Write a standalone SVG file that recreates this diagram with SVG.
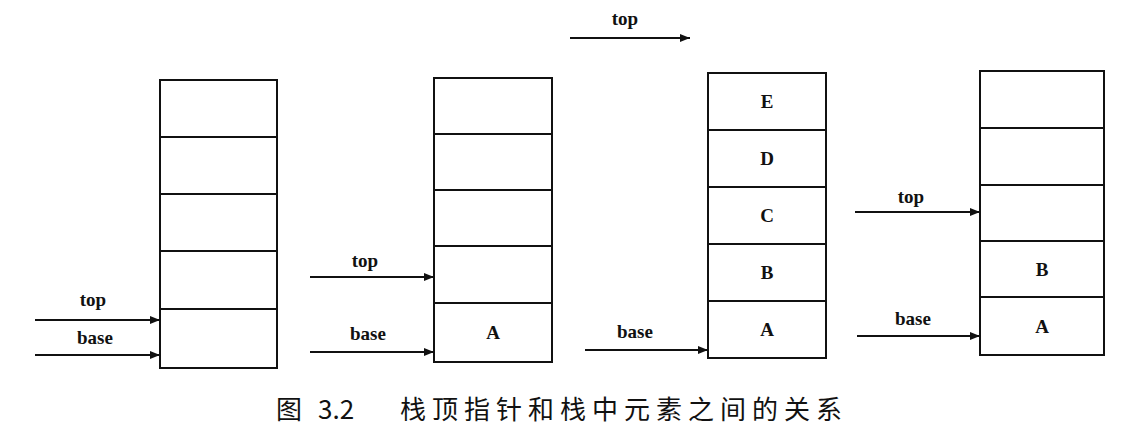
<svg xmlns="http://www.w3.org/2000/svg" width="1124" height="435" viewBox="0 0 1124 435">
<defs><marker id="ah" markerWidth="10" markerHeight="8" refX="10" refY="4" orient="auto" markerUnits="userSpaceOnUse"><path d="M0,0 L10,4 L0,8 Z" fill="#111"/></marker>
<style>.c{fill:#fff;stroke:#111;stroke-width:2}.t{font-family:"Liberation Serif",serif;font-size:19px;font-weight:bold;fill:#111;text-anchor:middle}.a{stroke:#111;stroke-width:2;fill:none;marker-end:url(#ah)}.cap{font-family:"Noto Sans CJK SC","Liberation Mono",serif;font-size:26px;fill:#111}</style></defs>
<rect width="1124" height="435" fill="#fff"/>
<g id="stack1"><rect class="c" x="160" y="80" width="117" height="57"/><rect class="c" x="160" y="137" width="117" height="57"/><rect class="c" x="160" y="194" width="117" height="57"/><rect class="c" x="160" y="251" width="117" height="58"/><rect class="c" x="160" y="309" width="117" height="59"/></g>
<g id="stack2"><rect class="c" x="434" y="78" width="118" height="56"/><rect class="c" x="434" y="134" width="118" height="56"/><rect class="c" x="434" y="190" width="118" height="56"/><rect class="c" x="434" y="246" width="118" height="57"/><rect class="c" x="434" y="303" width="118" height="59"/><text class="t" x="493" y="339">A</text></g>
<g id="stack3"><rect class="c" x="708" y="73" width="118" height="57"/><rect class="c" x="708" y="130" width="118" height="57"/><rect class="c" x="708" y="187" width="118" height="57"/><rect class="c" x="708" y="244" width="118" height="57"/><rect class="c" x="708" y="301" width="118" height="57"/><text class="t" x="767" y="108">E</text><text class="t" x="767" y="165">D</text><text class="t" x="767" y="222">C</text><text class="t" x="767" y="279">B</text><text class="t" x="767" y="336">A</text></g>
<g id="stack4"><rect class="c" x="980" y="71" width="124" height="57"/><rect class="c" x="980" y="128" width="124" height="57"/><rect class="c" x="980" y="185" width="124" height="56"/><rect class="c" x="980" y="241" width="124" height="56"/><rect class="c" x="980" y="297" width="124" height="58"/><text class="t" x="1042" y="276">B</text><text class="t" x="1042" y="333">A</text></g>
<g id="connectors">
<path class="a" d="M35,320 H160"/><path class="a" d="M35,355 H160"/>
<path class="a" d="M310,277 H434"/><path class="a" d="M310,352 H434"/>
<path class="a" d="M570,38 H690"/><path class="a" d="M585,350 H708"/>
<path class="a" d="M855,212 H980"/><path class="a" d="M857,336 H980"/>
</g>
<g id="labels">
<text class="t" x="93" y="306">top</text><text class="t" x="95" y="344">base</text>
<text class="t" x="365" y="267">top</text><text class="t" x="368" y="340">base</text>
<text class="t" x="625" y="25">top</text><text class="t" x="635" y="338">base</text>
<text class="t" x="911" y="203">top</text><text class="t" x="913" y="325">base</text>
</g>
<text class="cap" y="419"><tspan x="276">图</tspan><tspan x="318">3.2</tspan><tspan x="400" letter-spacing="6">栈顶指针和栈中元素之间的关系</tspan></text>
</svg>
